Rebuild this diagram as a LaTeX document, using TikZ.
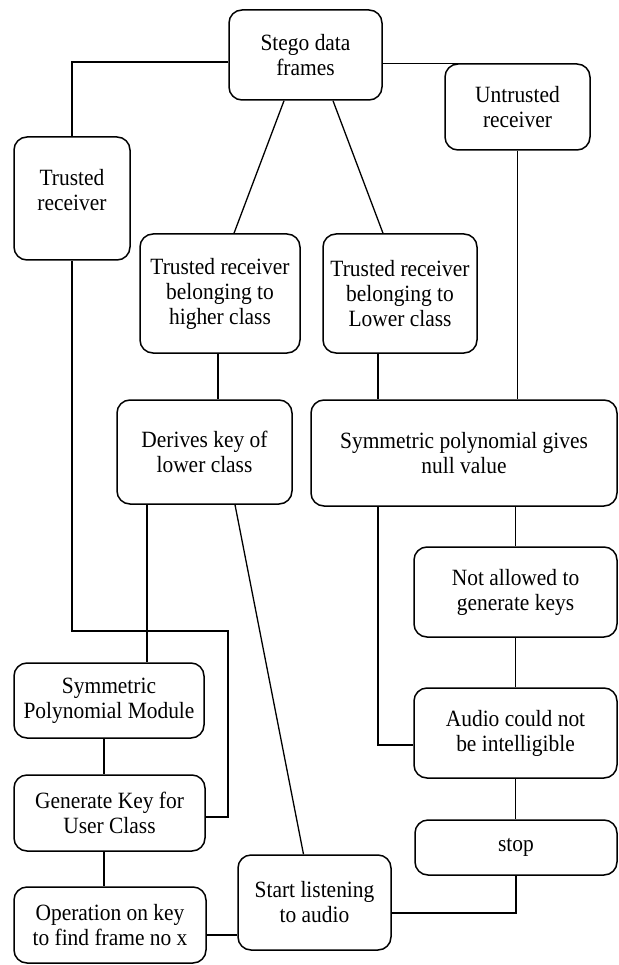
\documentclass[tikz,border=0pt]{standalone}
\usepackage{fontspec}
\setmainfont{Liberation Serif}[FakeStretch=0.92]
\begin{document}
\begin{tikzpicture}[x=1pt,y=-1pt,
  flowbox/.style={draw, line width=1.5pt, rounded corners=13pt, align=center,
    inner sep=0pt, font=\fontsize{23.3}{25}\selectfont},
  boxtext/.style={align=center, inner sep=0pt, font=\fontsize{23.3}{25}\selectfont},
  link/.style={line width=1.3pt}]
\useasboundingbox (0,0) rectangle (618,965);

% boxes
\node[flowbox, minimum width=153pt, minimum height=90pt] (stego) at (305.5,55) {Stego data\\frames};
\node[flowbox, minimum width=116pt, minimum height=123pt] (trusted) at (72,198.5) {};
\node[boxtext] (trustedtext) at (72,190) {Trusted\\receiver};
\node[flowbox, minimum width=145pt, minimum height=86pt] (untrusted) at (517.5,107) {Untrusted\\receiver};
\node[flowbox, minimum width=160pt, minimum height=119pt] (higher) at (220,293.5) {Trusted receiver\\belonging to\\higher class};
\node[flowbox, minimum width=154pt, minimum height=119pt] (lower) at (400,293.5) {Trusted receiver\\belonging to\\Lower class};
\node[flowbox, minimum width=175pt, minimum height=104pt] (derives) at (204.5,452) {Derives key of\\lower class};
\node[flowbox, minimum width=306pt, minimum height=106pt] (null) at (464,453) {Symmetric polynomial gives\\null value};
\node[flowbox, minimum width=203pt, minimum height=90pt] (notallowed) at (515.5,592) {Not allowed to\\generate keys};
\node[flowbox, minimum width=203pt, minimum height=90pt] (audio) at (515.5,733) {Audio could not\\be intelligible};
\node[flowbox, minimum width=202pt, minimum height=55pt] (stop) at (516,847.5) {stop};
\node[flowbox, minimum width=190pt, minimum height=75pt] (spm) at (109,700.5) {Symmetric\\Polynomial Module};
\node[flowbox, minimum width=191pt, minimum height=76pt] (generate) at (109.5,813) {Generate Key for\\User Class};
\node[flowbox, minimum width=192pt, minimum height=76pt] (operation) at (110,925) {Operation on key\\to find frame no x};
\node[flowbox, minimum width=153pt, minimum height=95pt] (start) at (314.5,902.5) {Start listening\\to audio};

% bend point of the trusted-receiver branch
\coordinate (bendA) at (228,631);

% connectors
\draw[link] ([yshift=-7pt]stego.west) -| (trusted.north);
\draw[link] (stego.east |- untrusted.north) -- ([xshift=20pt]untrusted.north west);
\draw[link] ([xshift=-21.5pt]stego.south) -- ([xshift=14pt]higher.north);
\draw[link] ([xshift=27.5pt]stego.south) -- ([xshift=-17pt]lower.north);
\draw[link] (untrusted.south) -- (untrusted.south |- null.north);
\draw[link] ([xshift=-2pt]higher.south) -- ([xshift=-2pt]higher.south |- derives.north);
\draw[link] ([xshift=-22pt]lower.south) -- ([xshift=-22pt]lower.south |- null.north);
\draw[link] ([xshift=-57.5pt]derives.south) -- ([xshift=-57.5pt]derives.south |- spm.north);
\draw[link] ([xshift=30.5pt]derives.south) -- ([xshift=-11pt]start.north);
\draw[link] ([xshift=-86pt]null.south) |- ([yshift=-12pt]audio.west);
\draw[link] (notallowed.north |- null.south) -- (notallowed.north);
\draw[link] (notallowed.south) -- (audio.north);
\draw[link] (audio.south) -- (audio.south |- stop.north);
\draw[link] (stop.south) |- ([yshift=-10.5pt]start.east);
\draw[link] ([xshift=-5pt]spm.south) -- ([xshift=-5pt]spm.south |- generate.north);
\draw[link] ([xshift=-5.5pt]generate.south) -- ([xshift=-5.5pt]generate.south |- operation.north);
\draw[link] ([yshift=-10pt]operation.east) -- ([yshift=-10pt]operation.east -| start.west);
\draw[link] (trusted.south) |- (bendA) |- ([yshift=-4pt]generate.east);
\end{tikzpicture}
\end{document}
